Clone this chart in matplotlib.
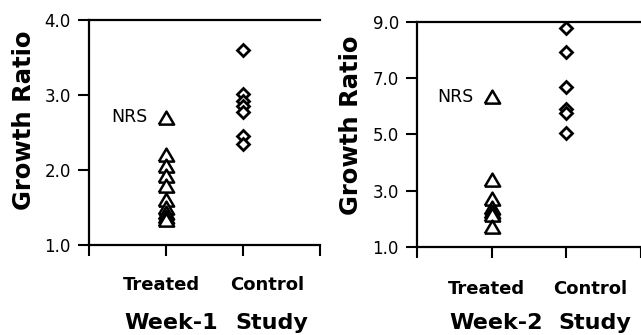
import numpy as np
import matplotlib.pyplot as plt

groups = ['Treated', 'Control']

# week 1
w1_nrs = 2.70
w1_treated = [2.20, 2.05, 1.92, 1.79, 1.60, 1.50, 1.43, 1.38, 1.33]
w1_control = [3.60, 3.01, 2.92, 2.85, 2.78, 2.46, 2.35]
w1_yticks = [1.0, 2.0, 3.0, 4.0]

# week 2
w2_nrs = 6.35
w2_treated = [3.38, 2.72, 2.38, 2.25, 2.14, 1.72]
w2_control = [8.78, 7.95, 6.70, 5.90, 5.77, 5.06]
w2_yticks = [1.0, 3.0, 5.0, 7.0, 9.0]

tri = [(-1, -0.8), (1, -0.8), (0, 0.9), (-1, -0.8)]

fig = plt.figure(figsize=(6.41, 3.35), dpi=100)
ax1 = fig.add_axes([89/641, 1-245/335, 231/641, 225/335])
ax2 = fig.add_axes([417/641, 1-247/335, 224/641, 225/335])


def panel(ax, nrs, treated, control, yticks, week, xmax, lab_x, lab_y, drop):
    ax.plot([1]*len(treated), treated, linestyle='none', marker=tri, ms=11,
            mfc='white', mec='black', mew=1.8)
    ax.plot([1], [nrs], linestyle='none', marker=tri, ms=11,
            mfc='white', mec='black', mew=1.8)
    ax.annotate('NRS', (1, nrs), xytext=(-13, 0), textcoords='offset points',
                ha='right', va='center', fontsize=12.5)
    ax.plot([2]*len(control), control, linestyle='none', marker='D', ms=6,
            mfc='white', mec='black', mew=2)
    ax.set_xlim(0, xmax)
    ax.set_ylim(yticks[0], yticks[-1])
    ax.set_yticks(yticks)
    ax.set_yticklabels(['%.1f' % t for t in yticks], fontsize=12)
    ax.set_xticks([0, 1, 2, 3])
    ax.set_xticklabels([])
    ax.tick_params(axis='x', length=8, width=1.5)
    ax.tick_params(axis='y', length=8, width=1.5, pad=5)
    ax.spines['right'].set_visible(False)
    for s in ['left', 'top', 'bottom']:
        ax.spines[s].set_linewidth(1.6)
    ax.set_ylabel('Growth Ratio', fontsize=17.5, fontweight='bold')
    ax.yaxis.set_label_coords(lab_x, lab_y)

    # group names under the ticks
    for x, name, dx in [(1, groups[0], -5), (2, groups[1], 24)]:
        ax.annotate(name, (x, 0), xycoords=('data', 'axes fraction'),
                    xytext=(dx, -45 - drop), textcoords='offset pixels',
                    ha='center', va='baseline', fontsize=13,
                    fontweight='bold', annotation_clip=False)
    # "Week-n  Study"
    for x, word, dx in [(1, week, -42), (2, 'Study', -8)]:
        ax.annotate(word, (x, 0), xycoords=('data', 'axes fraction'),
                    xytext=(dx, -84 + drop), textcoords='offset pixels',
                    ha='left', va='baseline', fontsize=16,
                    fontweight='bold', annotation_clip=False)


panel(ax1, w1_nrs, w1_treated, w1_control, w1_yticks, 'Week-1', 3.0,
      -0.23, 0.556, 0)
panel(ax2, w2_nrs, w2_treated, w2_control, w2_yticks, 'Week-2', 2.95,
      -0.24, 0.542, 2)

fig.savefig('out.png', dpi=100)
